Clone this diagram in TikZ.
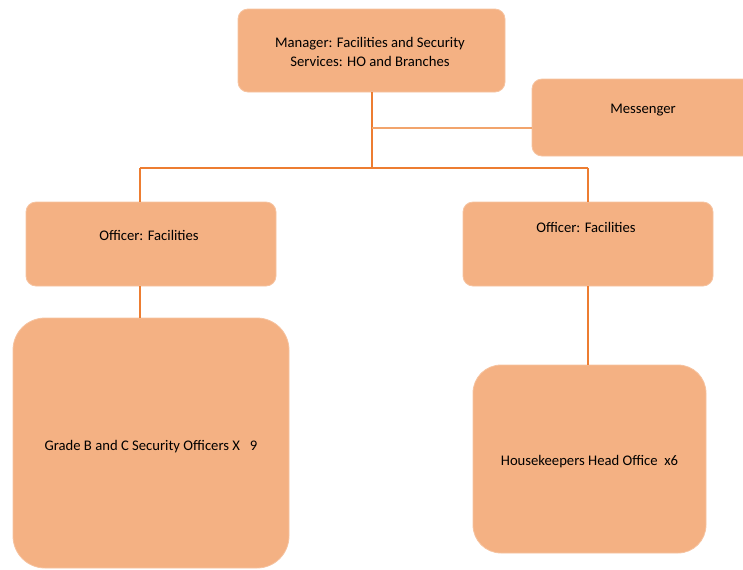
\documentclass[tikz,border=0pt]{standalone}
\usepackage{fontspec}
\setmainfont{Carlito}
\definecolor{boxfill}{HTML}{F4B183}
\definecolor{boxedge}{HTML}{F6C3A0}
\definecolor{linkcol}{HTML}{ED7D31}
\definecolor{linklight}{HTML}{F2A46C}
\begin{document}
\begin{tikzpicture}[x=0.75pt,y=-0.75pt,
  orgbox/.style={draw=boxedge,line width=0.6pt,fill=boxfill,rounded corners=7.5pt,inner sep=0pt},
  bigbox/.style={orgbox,rounded corners=24pt},
  label/.style={font=\fontsize{11pt}{14.3pt}\selectfont,text=black,align=center,inner sep=0pt},
  link/.style={draw=linkcol,line width=1.3pt},
  thinlink/.style={draw=linklight,line width=0.8pt}]
\useasboundingbox (0,0) rectangle (743,569);
% boxes
\node[orgbox,minimum width=200.25pt,minimum height=62.25pt] (mgr) at (371.5,50.5) {};
\node[orgbox,minimum width=166.5pt,minimum height=57.75pt] (mes) at (643,117.5) {};
\node[orgbox,minimum width=187.5pt,minimum height=63pt] (offL) at (151,244) {};
\node[orgbox,minimum width=187.5pt,minimum height=63pt] (offR) at (588,244) {};
\node[bigbox,minimum width=207pt,minimum height=187.5pt] (bigL) at (151,443) {};
\node[bigbox,rounded corners=21pt,minimum width=174.75pt,minimum height=141pt] (bigR) at (589.5,459) {};
% texts
\node[label] (tmgr) at (370,52) {Manager: Facilities and Security\\Services: HO and Branches};
\node[label] (tmes) at (643,110) {Messenger};
\node[label] (toffL) at (149,235) {Officer: Facilities};
\node[label] (toffR) at (586,227) {Officer: Facilities};
\node[label] (tbigL) at (151,447) {Grade B and C Security Officers X\ \ \ 9};
\node[label] (tbigR) at (589.5,462) {Housekeepers Head Office\ \ x6};
% connectors
\coordinate (bus) at (372,168);
\coordinate (busL) at (140,168);
\coordinate (busR) at (588,168);
\coordinate (mesj) at (372,128);
\draw[link] (mgr.south -| bus) -- (bus);
\draw[link] (busL) -- (busR);
\draw[thinlink] (mesj) -- (mesj -| mes.west);
\draw[link] (busL) -- (busL |- offL.north);
\draw[link] (busR) -- (offR.north);
\draw[link] (offL.south -| busL) -- (bigL.north -| busL);
\draw[link] (offR.south) -- (bigR.north -| offR.south);
\end{tikzpicture}
\end{document}
